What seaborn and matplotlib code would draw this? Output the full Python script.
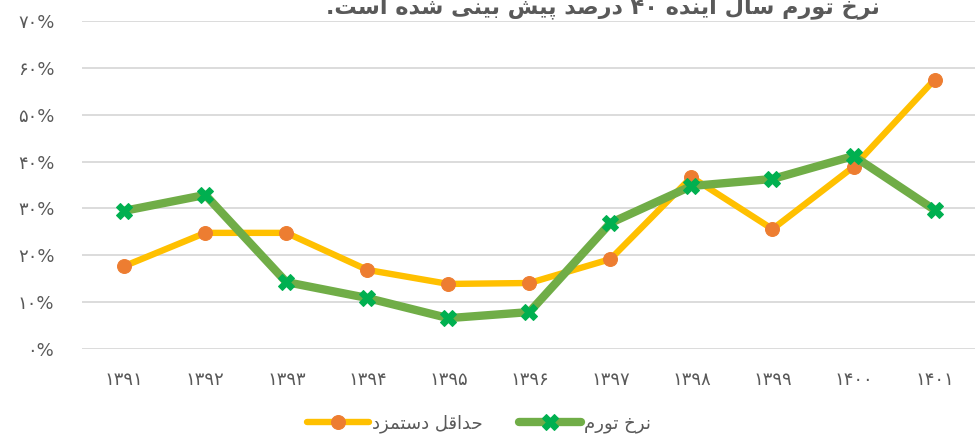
import matplotlib
matplotlib.use("Agg")
import matplotlib.pyplot as plt
import seaborn as sns
import pandas as pd

# data
years = ["۱۳۹۱", "۱۳۹۲", "۱۳۹۳", "۱۳۹۴", "۱۳۹۵", "۱۳۹۶",
         "۱۳۹۷", "۱۳۹۸", "۱۳۹۹", "۱۴۰۰", "۱۴۰۱"]
inflation = [29.5, 32.9, 14.3, 10.9, 6.6, 7.9, 26.9, 34.8, 36.3, 41.2, 29.7]
min_wage = [17.7, 24.8, 24.8, 16.9, 13.9, 14.1, 19.2, 36.7, 25.6, 38.9, 57.5]
y_ticks = [0, 10, 20, 30, 40, 50, 60, 70]
y_tick_labels = ["۰%", "۱۰%", "۲۰%", "۳۰%", "۴۰%", "۵۰%", "۶۰%", "۷۰%"]
title = "نرخ تورم سال آینده ۴۰ درصد پیش بینی شده است."
label_inflation = "نرخ تورم"
label_wage = "حداقل دستمزد"

# matplotlib does no arabic shaping, so do a tiny one by hand
# letter: (isolated, final, initial, medial)
FORMS = {
    "ا": ("\uFE8D", "\uFE8E", None, None),
    "آ": ("\uFE81", "\uFE82", None, None),
    "ب": ("\uFE8F", "\uFE90", "\uFE91", "\uFE92"),
    "پ": ("\uFB56", "\uFB57", "\uFB58", "\uFB59"),
    "ت": ("\uFE95", "\uFE96", "\uFE97", "\uFE98"),
    "ح": ("\uFEA1", "\uFEA2", "\uFEA3", "\uFEA4"),
    "خ": ("\uFEA5", "\uFEA6", "\uFEA7", "\uFEA8"),
    "د": ("\uFEA9", "\uFEAA", None, None),
    "ر": ("\uFEAD", "\uFEAE", None, None),
    "ز": ("\uFEAF", "\uFEB0", None, None),
    "س": ("\uFEB1", "\uFEB2", "\uFEB3", "\uFEB4"),
    "ش": ("\uFEB5", "\uFEB6", "\uFEB7", "\uFEB8"),
    "ص": ("\uFEB9", "\uFEBA", "\uFEBB", "\uFEBC"),
    "ق": ("\uFED5", "\uFED6", "\uFED7", "\uFED8"),
    "ل": ("\uFEDD", "\uFEDE", "\uFEDF", "\uFEE0"),
    "م": ("\uFEE1", "\uFEE2", "\uFEE3", "\uFEE4"),
    "ن": ("\uFEE5", "\uFEE6", "\uFEE7", "\uFEE8"),
    "ه": ("\uFEE9", "\uFEEA", "\uFEEB", "\uFEEC"),
    "و": ("\uFEED", "\uFEEE", None, None),
    "ی": ("\uFBFC", "\uFBFD", "\uFBFE", "\uFBFF"),
}


def shape(word):
    out = []
    for i, ch in enumerate(word):
        if ch not in FORMS:
            out.append(ch)
            continue
        iso, fin, ini, med = FORMS[ch]
        prev = word[i - 1] if i > 0 else None
        nxt = word[i + 1] if i + 1 < len(word) else None
        join_prev = prev in FORMS and FORMS[prev][2] is not None
        join_next = ini is not None and nxt in FORMS
        if join_prev and join_next:
            out.append(med)
        elif join_prev:
            out.append(fin)
        elif join_next:
            out.append(ini)
        else:
            out.append(iso)
    return "".join(out)


def rtl(text):
    words = []
    for w in text.split(" "):
        s = shape(w)
        if any(c in FORMS for c in w):
            s = s[::-1]
        words.append(s)
    return " ".join(words[::-1])


df = pd.DataFrame({"year": years, "inflation": inflation, "min_wage": min_wage})

sns.set_style("white")
plt.rcParams["font.family"] = ["DejaVu Sans"]
text_color = "#595959"

fig = plt.figure(figsize=(9.78, 4.43), dpi=100)
ax = fig.add_axes([0.084, 0.212, 0.913, 0.7405])

sns.lineplot(data=df, x="year", y="min_wage", ax=ax, color="#FFC000", lw=4.6,
             marker="o", markersize=10, markerfacecolor="#ED7D31",
             markeredgecolor="#ED7D31", solid_capstyle="round", zorder=3)
sns.lineplot(data=df, x="year", y="inflation", ax=ax, color="#70AD47", lw=6,
             marker="X", markersize=12, markerfacecolor="#00B050",
             markeredgecolor="#00B050", solid_capstyle="round", zorder=4)

ax.set_xlim(-0.52, 10.5)
ax.set_ylim(0, 70)
ax.set_yticks(y_ticks)
ax.set_yticklabels(y_tick_labels)
ax.grid(axis="y", color="#D9D9D9", lw=1.3)
ax.grid(axis="x", visible=False)
for s in ax.spines.values():
    s.set_visible(False)
ax.tick_params(axis="y", length=0, pad=20, labelsize=13, labelcolor=text_color)
ax.tick_params(axis="x", length=0, pad=16, labelsize=13, labelcolor=text_color)
ax.set_xlabel("")
ax.set_ylabel("")

lines = ax.get_lines()
fig.legend([lines[0], lines[1]], [rtl(label_wage), rtl(label_inflation)],
           loc="center", bbox_to_anchor=(0.49, 0.043), ncol=2, frameon=False,
           fontsize=13, handlelength=3.4, handletextpad=0.2, columnspacing=2.0,
           labelcolor=text_color)

# the title sits half off the top edge, as in the source image
fig.text(0.617, 0.988, rtl(title), ha="center", va="center", fontsize=16,
         fontweight="bold", color=text_color)

fig.savefig("out.png", dpi=100)
